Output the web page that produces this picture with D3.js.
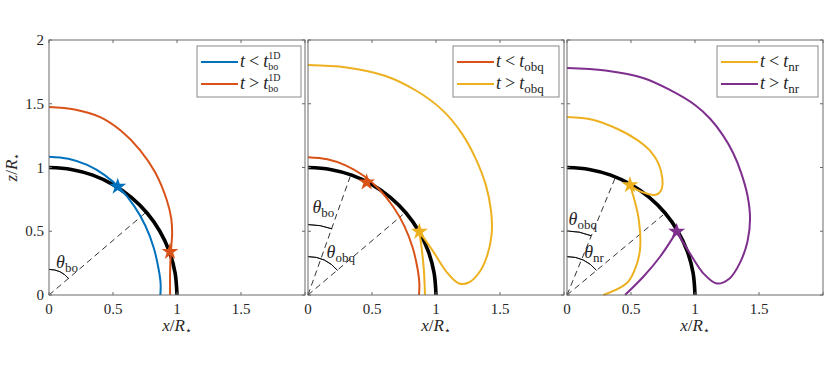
<!DOCTYPE html>
<html><head><meta charset="utf-8">
<script src="https://cdn.jsdelivr.net/npm/d3@7"></script>
<style>
body{margin:0;background:#fff;}
text{font-family:"Liberation Serif","Times New Roman",serif;fill:#262626;}
</style></head>
<body><svg id="c" width="830" height="369"></svg>
<script>
// ---------- data (x/R*, z/R*) ----------
const xTicks = [0, 0.5, 1, 1.5, 2];
const yTicks = [0, 0.5, 1, 1.5, 2];
const xTickLabels = ["0", "0.5", "1", "1.5", ""];
const yTickLabels = ["0", "0.5", "1", "1.5", "2"];

const stellarSurface = [[1,0],[0.985,0.174],[0.94,0.342],[0.866,0.5],[0.766,0.643],[0.643,0.766],[0.5,0.866],[0.342,0.94],[0.174,0.985],[0,1]];

// panel 1
const p1Blue = [[0,1.085],[0.151,1.069],[0.298,1.02],[0.435,0.94],[0.559,0.831],[0.666,0.697],[0.753,0.543],[0.818,0.371],[0.857,0.2],[0.872,0.09],[0.87,0]];
const p1Orange = [[0,1.475],[0.2,1.455],[0.4,1.395],[0.56,1.29],[0.711,1.137],[0.83,0.96],[0.92,0.745],[0.955,0.6],[0.962,0.48],[0.952,0.34],[0.946,0.17],[0.946,0]];
const p1Stars = [[0.537,0.85],[0.945,0.34]];

// panel 2
const p2Orange = [[0,1.08],[0.151,1.064],[0.298,1.015],[0.435,0.935],[0.559,0.826],[0.666,0.692],[0.753,0.54],[0.818,0.37],[0.857,0.2],[0.87,0.09],[0.867,0]];
const p2YellowLoop = [[0,1.804],[0.3,1.785],[0.6,1.72],[0.85,1.6],[1.05,1.45],[1.2,1.27],[1.31,1.07],[1.39,0.86],[1.43,0.66],[1.435,0.48],[1.40,0.31],[1.34,0.18],[1.26,0.1],[1.18,0.09],[1.083,0.18],[0.979,0.34],[0.87,0.497]];
const p2YellowTail = [[0.87,0.497],[0.89,0.35],[0.905,0.2],[0.914,0]];
const p2Stars = [[0.458,0.884],[0.87,0.497]];

// panel 3
const p3YellowLoop = [[0,1.396],[0.2,1.375],[0.4,1.3],[0.55,1.215],[0.65,1.13],[0.715,1.03],[0.745,0.915],[0.742,0.84],[0.72,0.8],[0.685,0.785],[0.64,0.79],[0.544,0.826],[0.492,0.863]];
const p3YellowTail = [[0.492,0.863],[0.557,0.614],[0.57,0.353],[0.53,0.2],[0.466,0.092],[0.284,0]];
const p3PurpleLoop = [[0,1.78],[0.3,1.76],[0.6,1.70],[0.8,1.61],[1.0,1.49],[1.12,1.38],[1.22,1.25],[1.3,1.11],[1.36,0.96],[1.41,0.78],[1.43,0.6],[1.41,0.42],[1.35,0.25],[1.27,0.13],[1.17,0.09],[1.065,0.17],[0.96,0.327],[0.857,0.497]];
const p3PurpleTail = [[0.857,0.497],[0.727,0.3],[0.596,0.143],[0.453,0]];
const p3Stars = [[0.492,0.863],[0.857,0.497]];

// angle annotations
const p1Rays = [{end:[0.763,0.653], r:0.2, deg:50, label:"bo", at:[0.055,0.212]}];
const p2Rays = [{end:[0.33,0.93], r:0.55, deg:20, label:"bo", at:[0.035,0.643]},
                {end:[0.74,0.63], r:0.3, deg:50, label:"obq", at:[0.145,0.29]}];
const p3Rays = [{end:[0.375,0.915], r:0.5, deg:22, label:"obq", at:[0.012,0.55]},
                {end:[0.75,0.627], r:0.3, deg:50, label:"nr", at:[0.135,0.29]}];

const C = {blue:"#0072BD", orange:"#D95319", yellow:"#EDB120", purple:"#7E2F8E"};

const panels = [
  {x0:49, curves:[{d:p1Blue,c:C.blue},{d:p1Orange,c:C.orange}], stars:[{p:p1Stars[0],c:C.blue},{p:p1Stars[1],c:C.orange}], rays:p1Rays,
   legend:[{c:C.blue,op:"<",sub:"bo",sup:"1D"},{c:C.orange,op:">",sub:"bo",sup:"1D"}], lx:[197,301], yLabels:true},
  {x0:308, curves:[{d:p2Orange,c:C.orange},{d:p2YellowLoop,c:C.yellow},{d:p2YellowTail,c:C.yellow}], stars:[{p:p2Stars[0],c:C.orange},{p:p2Stars[1],c:C.yellow}], rays:p2Rays,
   legend:[{c:C.orange,op:"<",sub:"obq"},{c:C.yellow,op:">",sub:"obq"}], lx:[453,559], yLabels:false},
  {x0:567, curves:[{d:p3YellowLoop,c:C.yellow},{d:p3YellowTail,c:C.yellow},{d:p3PurpleLoop,c:C.purple},{d:p3PurpleTail,c:C.purple}], stars:[{p:p3Stars[0],c:C.yellow},{p:p3Stars[1],c:C.purple}], rays:p3Rays,
   legend:[{c:C.yellow,op:"<",sub:"nr"},{c:C.purple,op:">",sub:"nr"}], lx:[717,818], yLabels:false}
];

const svg = d3.select("#c");
const W = 256, topY = 40, bottomY = 295;
const frameColor = "#6a6a6a";

panels.forEach(P => {
  const x = d3.scaleLinear().domain([0,2]).range([P.x0, P.x0+W]);
  const y = d3.scaleLinear().domain([0,2]).range([bottomY, topY]);
  const g = svg.append("g");
  const line = d3.line().x(d=>x(d[0])).y(d=>y(d[1])).curve(d3.curveCatmullRom.alpha(0.5));

  P.rays.forEach(r => {
    g.append("line").attr("x1",x(0)).attr("y1",y(0)).attr("x2",x(r.end[0])).attr("y2",y(r.end[1]))
      .attr("stroke","#000").attr("stroke-width",0.8).attr("stroke-dasharray","6,4");
    const rad = x(r.r)-x(0);
    g.append("path").attr("transform",`translate(${x(0)},${y(0)})`)
      .attr("d", d3.arc()({innerRadius:rad, outerRadius:rad, startAngle:0, endAngle:r.deg*Math.PI/180}))
      .attr("fill","none").attr("stroke","#000").attr("stroke-width",0.8);
    const t = g.append("text").attr("x",x(r.at[0])).attr("y",y(r.at[1])).attr("font-size",18);
    t.append("tspan").attr("font-style","italic").text("θ");
    t.append("tspan").attr("font-size",13).attr("dy",4).text(r.label);
  });

  g.append("path").attr("d", line(stellarSurface)).attr("fill","none").attr("stroke","#000").attr("stroke-width",3.6);

  P.curves.forEach(cv => {
    g.append("path").attr("d", line(cv.d)).attr("fill","none").attr("stroke",cv.c).attr("stroke-width",2);
  });

  const star = d3.symbol().type(d3.symbolStar).size(90);
  P.stars.forEach(s => {
    g.append("path").attr("d", star()).attr("transform",`translate(${x(s.p[0])},${y(s.p[1])})`).attr("fill",s.c);
  });

  g.append("rect").attr("x",P.x0).attr("y",topY).attr("width",W).attr("height",bottomY-topY)
    .attr("fill","none").attr("stroke",frameColor).attr("stroke-width",1);
  xTicks.forEach((v,i) => {
    g.append("line").attr("x1",x(v)).attr("x2",x(v)).attr("y1",bottomY).attr("y2",bottomY-3).attr("stroke",frameColor);
    g.append("line").attr("x1",x(v)).attr("x2",x(v)).attr("y1",topY).attr("y2",topY+3).attr("stroke",frameColor);
    if (xTickLabels[i]) g.append("text").attr("x",x(v)).attr("y",bottomY+19).attr("text-anchor","middle").attr("font-size",15).text(xTickLabels[i]);
  });
  yTicks.forEach((v,i) => {
    g.append("line").attr("x1",P.x0).attr("x2",P.x0+3).attr("y1",y(v)).attr("y2",y(v)).attr("stroke",frameColor);
    g.append("line").attr("x1",P.x0+W).attr("x2",P.x0+W-3).attr("y1",y(v)).attr("y2",y(v)).attr("stroke",frameColor);
    if (P.yLabels) g.append("text").attr("x",P.x0-5).attr("y",y(v)+5).attr("text-anchor","end").attr("font-size",15).text(yTickLabels[i]);
  });

  const xl = g.append("text").attr("x",x(1)).attr("y",331).attr("text-anchor","middle").attr("font-size",17);
  xl.append("tspan").attr("font-style","italic").text("x");
  xl.append("tspan").text("/");
  xl.append("tspan").attr("font-style","italic").text("R");
  xl.append("tspan").attr("font-size",11).attr("dy",3).text("⋆");

  const lg = g.append("g");
  lg.append("rect").attr("x",P.lx[0]).attr("y",46).attr("width",P.lx[1]-P.lx[0]).attr("height",51)
    .attr("fill","#fff").attr("stroke","#8a8a8a").attr("stroke-width",1);
  P.legend.forEach((e,i) => {
    const yy = 62 + i*22;
    lg.append("line").attr("x1",P.lx[0]+4).attr("x2",P.lx[0]+41).attr("y1",yy).attr("y2",yy).attr("stroke",e.c).attr("stroke-width",2);
    const t = lg.append("text").attr("x",P.lx[0]+43).attr("y",yy+5).attr("font-size",18);
    t.append("tspan").attr("font-style","italic").text("t");
    t.append("tspan").attr("dx",4).text(e.op);
    t.append("tspan").attr("dx",4).attr("font-style","italic").text("t");
    const w = t.node().getComputedTextLength() + 8;
    const bx = P.lx[0]+43+w;
    if (e.sup) {
      lg.append("text").attr("x",bx).attr("y",yy-3).attr("font-size",10).text(e.sup);
      lg.append("text").attr("x",bx).attr("y",yy+8).attr("font-size",10).text(e.sub);
    } else {
      lg.append("text").attr("x",bx).attr("y",yy+9).attr("font-size",13).text(e.sub);
    }
  });
});

const yl = svg.append("text").attr("transform","translate(17,167) rotate(-90)").attr("text-anchor","middle").attr("font-size",17);
yl.append("tspan").attr("font-style","italic").text("z");
yl.append("tspan").text("/");
yl.append("tspan").attr("font-style","italic").text("R");
yl.append("tspan").attr("font-size",11).attr("dy",3).text("⋆");
</script></body></html>
